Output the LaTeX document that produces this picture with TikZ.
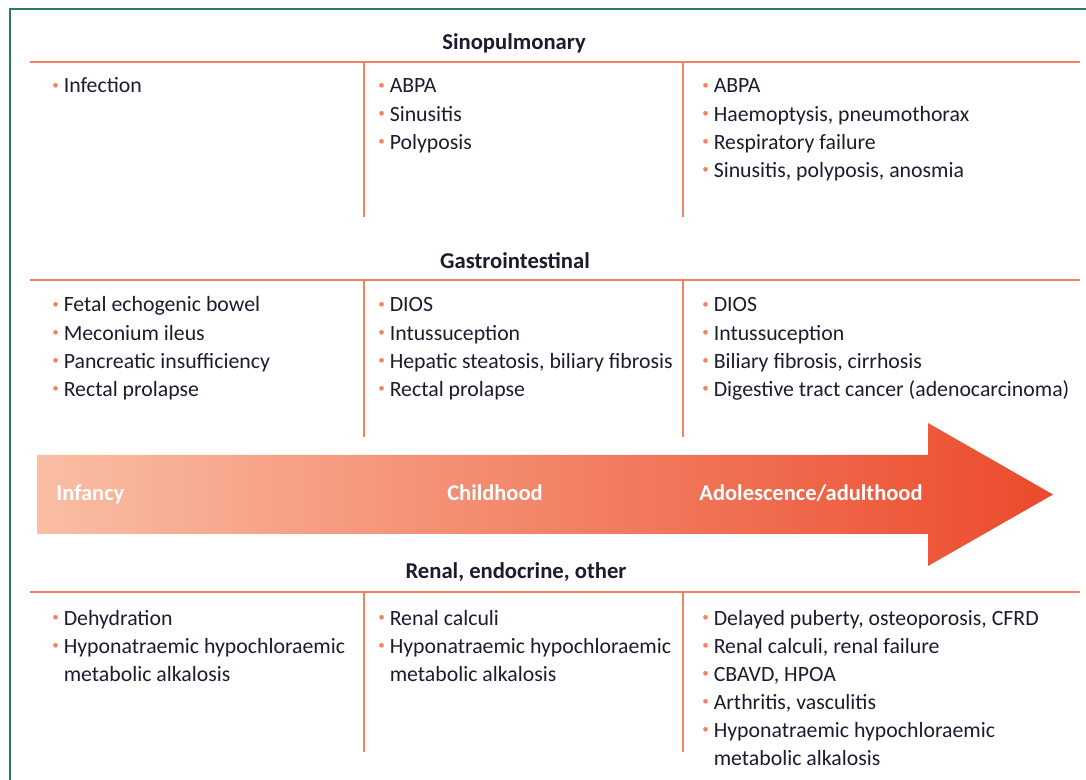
\documentclass[tikz,border=0pt]{standalone}
\usepackage{fontspec}
\setmainfont{Carlito}
\usepackage{tikz}
\usetikzlibrary{positioning,calc}

\definecolor{framegreen}{RGB}{40,128,88}
\definecolor{rulecol}{RGB}{245,128,98}
\definecolor{textcol}{RGB}{30,27,45}
\definecolor{arrowL}{RGB}{249,190,164}
\definecolor{arrowR}{RGB}{236,74,44}

\newcommand{\bul}{\textcolor{rulecol}{\raisebox{1.8pt}{\fontsize{7.5}{7.5}\selectfont\textbullet}}}
\newenvironment{bullets}{\begin{tabular}[t]{@{}p{6.5pt}@{}l@{}}}{\end{tabular}}

\begin{document}
\begin{tikzpicture}[
    x=0.02cm, y=-0.02cm,
    rule/.style={draw=rulecol, line width=1.1pt},
    heading/.style={font=\fontsize{12.9}{15.94}\selectfont\bfseries, text=textcol, anchor=base, inner sep=0pt},
    items/.style={font=\fontsize{12.4}{15.94}\selectfont, text=textcol, anchor=base west, inner sep=0pt},
    stage/.style={font=\fontsize{12.8}{15.94}\selectfont\bfseries, text=white, anchor=base, inner sep=0pt},
]
\useasboundingbox (0,0) rectangle (1086,780);
\clip (0,0) rectangle (1086,780);

% Frame
\draw[framegreen, line width=1.4pt] (10,9) rectangle (1120,820);

% Sinopulmonary
\node[heading] (sinohead) at (514,50) {Sinopulmonary};
\draw[rule] (30,62) -- (1080,62);
\draw[rule] (364,61) -- (364,217);
\draw[rule] (683,61) -- (683,217);

\node[items] (sino1) at (52,93) {\begin{bullets}
\bul & Infection
\end{bullets}};
\node[items] (sino2) at (378,93) {\begin{bullets}
\bul & ABPA\\
\bul & Sinusitis\\
\bul & Polyposis
\end{bullets}};
\node[items] (sino3) at (702,93) {\begin{bullets}
\bul & ABPA\\
\bul & Haemoptysis, pneumothorax\\
\bul & Respiratory failure\\
\bul & Sinusitis, polyposis, anosmia
\end{bullets}};

% Gastrointestinal
\node[heading] (gihead) at (515,269) {Gastrointestinal};
\draw[rule] (30,280) -- (1080,280);
\draw[rule] (364,279) -- (364,437);
\draw[rule] (683,279) -- (683,437);

\node[items] (gi1) at (52,312) {\begin{bullets}
\bul & Fetal echogenic bowel\\
\bul & Meconium ileus\\
\bul & Pancreatic insufficiency\\
\bul & Rectal prolapse
\end{bullets}};
\node[items] (gi2) at (378,312) {\begin{bullets}
\bul & DIOS\\
\bul & Intussuception\\
\bul & Hepatic steatosis, biliary fibrosis\\
\bul & Rectal prolapse
\end{bullets}};
\node[items] (gi3) at (702,312) {\begin{bullets}
\bul & DIOS\\
\bul & Intussuception\\
\bul & Biliary fibrosis, cirrhosis\\
\bul & Digestive tract cancer (adenocarcinoma)
\end{bullets}};

% Age arrow
\shade[left color=arrowL, right color=arrowR]
  (37,455) -- (928,455) -- (928,423) -- (1053,494.5) -- (928,566) -- (928,534) -- (37,534) -- cycle;
\node[stage, anchor=base west] (infancy) at (56,501) {Infancy};
\node[stage] (childhood) at (495,501) {Childhood};
\node[stage] (adult) at (811,501) {Adolescence/adulthood};

% Renal, endocrine, other
\node[heading] (renhead) at (516,579) {Renal, endocrine, other};
\draw[rule] (30,592) -- (1080,592);
\draw[rule] (364,591) -- (364,752);
\draw[rule] (683,591) -- (683,752);

\node[items] (ren1) at (52,625) {\begin{bullets}
\bul & Dehydration\\
\bul & Hyponatraemic hypochloraemic\\
     & metabolic alkalosis
\end{bullets}};
\node[items] (ren2) at (378,625) {\begin{bullets}
\bul & Renal calculi\\
\bul & Hyponatraemic hypochloraemic\\
     & metabolic alkalosis
\end{bullets}};
\node[items] (ren3) at (702,625) {\begin{bullets}
\bul & Delayed puberty, osteoporosis, CFRD\\
\bul & Renal calculi, renal failure\\
\bul & CBAVD, HPOA\\
\bul & Arthritis, vasculitis\\
\bul & Hyponatraemic hypochloraemic\\
     & metabolic alkalosis
\end{bullets}};

\end{tikzpicture}
\end{document}
